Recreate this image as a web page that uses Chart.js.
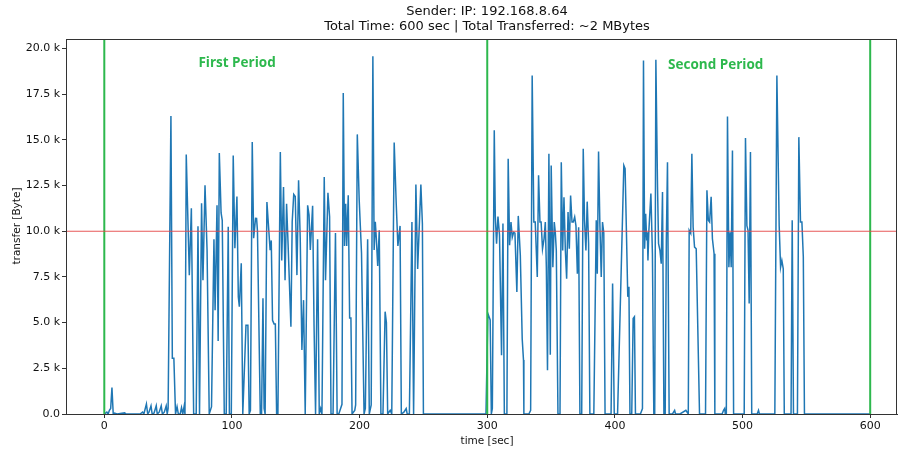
<!DOCTYPE html>
<html>
<head>
<meta charset="utf-8">
<script src="https://cdn.jsdelivr.net/npm/chart.js@4/dist/chart.umd.min.js"></script>
<style>
  html, body { margin: 0; padding: 0; background: #fff; }
  #myChart { display: block; }
</style>
</head>
<body>
<canvas id="myChart" width="898" height="452"></canvas>
<script>
// time [sec] and transfer [Byte]
const times = [
  0, 2, 3, 4, 5, 6, 7, 8, 10, 16, 17, 28, 30, 31, 33, 34, 35, 36.6, 37.5, 39, 40.7, 41.5, 43, 44.6, 45.5, 47, 48.5, 49.3,
  50, 52.2, 53.3, 54.5, 55.8, 57, 58, 59.5, 60.5, 61.5, 62.5, 63.2, 64.2, 66.6, 68.2, 70, 72, 73.4, 74.6, 76.2, 77.3, 78.9,
  80.5, 82.2, 84, 85.9, 86.8, 88.3, 89.2, 90.1, 91.5, 92.4, 94, 95.5, 97.1, 98, 99.5, 101, 102.3, 103.9, 105, 105.8, 107.3,
  108.5, 111, 112.5, 113.5, 114.5, 115.9, 117, 118.5, 119.3, 120, 122.2, 123.2, 124.3, 125.2, 126, 127.4, 129.9, 130.8,
  131.8, 133, 134, 135, 136, 137.9, 139, 140.4, 141.6, 142.8, 144, 146.2, 147.2, 148.4, 149.6, 150.9, 152.2, 153.5, 154.8,
  156.1, 157.4, 159.3, 160.4, 161.4, 163.2, 164.3, 165.5, 167.1, 168.4, 169.5, 170.5, 172.3, 173.3, 175.2, 176.5, 177.6,
  179.2, 181.1, 182.4, 183.7, 186.2, 187.2, 188.2, 189.1, 189.9, 191.1, 192.2, 193.2, 194.1, 196.2, 196.9, 198.2, 199.7,
  201.5, 203.5, 204.5, 206.3, 207.6, 209.1, 210.4, 211.4, 212.3, 213.1, 214.2, 215.4, 216.7, 218.3, 220, 221, 222, 224,
  225.2, 227.1, 228.7, 230, 231.7, 232.7, 234.7, 236.5, 237.3, 239, 241, 242.3, 244.1, 245.5, 248, 249.2, 250, 299,
  300.5, 302.3, 303.2, 304, 305.5, 306.3, 307.3, 308.4, 309.6, 311.2, 312.3, 313.4, 315.4, 316.4, 317.5, 318.6, 319.6,
  320.7, 321.7, 323.2, 324.3, 325.9, 327.4, 328.4, 328.7, 332.6, 334, 335.2, 336.5, 337.6, 339.2, 340.2, 341.3, 342.2,
  343.3, 344.5, 345.5, 346.3, 347.2, 348.3, 349.4, 350.1, 351.4, 352.5, 353.3, 354.1, 355.4, 357, 358, 359.1, 360.1,
  361.2, 362.2, 363.3, 364.3, 365.3, 366.4, 367.4, 368.5, 369.5, 370.6, 371.6, 372.6, 374, 375.2, 376.2, 377.3, 378.3,
  379.4, 380.4, 383.5, 385.4, 386.2, 387.2, 388.2, 389.3, 390.3, 391.3, 392.3, 397, 398.2, 399.5, 402.1, 407, 408,
  410.1, 411, 411.8, 413.2, 414.3, 415.3, 416.1, 420, 421.6, 422.4, 423.3, 424.1, 424.9, 425.4, 425.9, 426.6, 428.2,
  429.4, 430.5, 431.2, 432.1, 433.4, 434.2, 435.3, 436.3, 437.3, 438.4, 439.4, 440.3, 441.2, 442.5, 445.1, 446.8,
  447.5, 451, 455.6, 457.5, 458.2, 459.4, 460.3, 461.3, 462.4, 463.7, 466.3, 471, 472.1, 473.2, 474.2, 475.4, 476.4,
  477.7, 478.3, 484, 485.1, 486, 486.5, 487.3, 488.2, 489.3, 490.3, 491.1, 492.1, 493, 501.3, 502.3, 503.4, 504.3,
  505.2, 506.2, 507.2, 511.5, 512.5, 513.2, 525.3, 526.9, 528.7, 529.8, 530.8, 531.9, 532.7, 538, 538.9, 539.9, 543,
  544.1, 545.4, 546.5, 547.6, 548.5, 600
];
const bytes = [
  0, 100, 0, 200, 300, 1450, 0, 50, 0, 60, 0, 0, 100, 0, 550, 0, 100, 450, 0, 50, 450, 0, 100, 450, 0, 100, 450, 0,
  300, 16300, 3050, 3050, 0, 400, 0, 0, 350, 0, 400, 0, 14200, 7600, 11260, 0, 0, 10270, 0, 11530, 7320, 12510,
  9000, 0, 400, 9560, 5680, 11420, 4000, 14280, 11000, 10600, 0, 0, 10240, 0, 0, 14150, 9070, 11900, 6410, 5870, 8250,
  0, 4860, 4860, 0, 200, 14880, 9620, 10710, 10700, 10000, 0, 0, 6340, 300, 0, 11600, 8960, 9500,
  5130, 4930, 4930, 0, 0, 14330, 8400, 12420, 7320, 11500, 9240, 4770, 10520, 12020, 11900, 7600, 12790, 9600, 3500,
  6230, 0, 11420, 10880, 8970, 11400, 4900, 0, 9560, 0, 300, 0, 12970, 7320, 12100, 10790, 0,
  0, 9910, 0, 0, 530, 17560, 9200, 11500, 9200, 11970, 5250, 5250, 0, 200, 500, 15300, 11700,
  8800, 0, 300, 9560, 0, 500, 19580, 8970, 10520, 9620, 8100, 10050, 0, 0, 5600, 5000, 0, 200,
  0, 14850, 11500, 9200, 10290, 0, 100, 300, 0, 0, 10510, 0, 12560, 7940, 12560, 10400, 0, 0,
  5500, 5150, 0, 300, 15520, 10820, 9320, 10800, 9800, 3220, 10420, 0, 0, 13970, 9230, 10500, 9670,
  9940, 9900, 6680, 10840, 8700, 4100, 2950, 0, 0, 200, 18520, 10500, 10500, 7500, 13060, 10500, 10500,
  9040, 9590, 10500, 8030, 2400, 14240, 3240, 13600, 8030, 10500, 9950, 8950, 0, 0, 13780, 8950, 11860,
  8950, 7400, 11050, 9040, 11950, 10500, 10500, 10780, 10300, 7670, 10220, 0, 0, 14520, 10600, 8950, 11620,
  9320, 0, 0, 10600, 7670, 14370, 10500, 7500, 10500, 9900, 0, 0, 7140, 0, 0, 13600, 13420,
  6410, 6960, 0, 0, 5230, 5320, 0, 0, 300, 19340, 9040, 10950, 9500, 9950, 8400, 10000, 12060,
  8760, 0, 0, 19380, 12430, 9320, 8950, 8220, 12150, 0, 0, 9500, 13780, 0, 0, 200,
  0, 0, 200, 0, 10050, 9880, 14240, 10220, 9130, 9040, 0, 0, 12240, 10600, 10500, 11880, 9590,
  8770, 0, 0, 200, 300, 0, 0, 16280, 8030, 9950, 8030, 14420, 0, 0, 15100, 10300, 10050,
  6050, 14330, 0, 0, 200, 0, 0, 18520, 10300, 8030, 8400, 7940, 0, 0, 10600, 0, 0,
  15150, 10500, 10500, 8600, 0, 0
];
const xTicks = [0, 100, 200, 300, 400, 500, 600];
const yTicks = [0, 2500, 5000, 7500, 10000, 12500, 15000, 17500, 20000];
const periodBounds = [0, 300, 600];
const threshold = 10000;
const periodNames = ["First Period", "Second Period"];
const titleLines = ["Sender: IP: 192.168.8.64", "Total Time: 600 sec | Total Transferred: ~2 MBytes"];

const xMin = -30, xMax = 621, yMax = 20520;
const green = "#2db84d";
const font = "'DejaVu Sans', sans-serif";

const series = times.map((t, i) => ({ x: t, y: bytes[i] }));

let datasets = [];
datasets.push({
  data: [{ x: xMin, y: threshold }, { x: xMax, y: threshold }],
  borderColor: "rgba(228, 70, 70, 0.9)",
  borderWidth: 1.2,
  pointRadius: 0,
  order: 0
});
periodBounds.forEach(b => {
  datasets.push({
    data: [{ x: b, y: 0 }, { x: b, y: yMax }],
    borderColor: green,
    borderWidth: 2,
    pointRadius: 0,
    order: 1
  });
});
datasets.push({
  data: series,
  borderColor: "#1f77b4",
  borderWidth: 1.5,
  pointRadius: 0,
  tension: 0,
  order: 2
});

const extras = {
  id: "extras",
  afterDraw(chart) {
    const ctx = chart.ctx;
    const a = chart.chartArea;
    const sx = chart.scales.x;
    const sy = chart.scales.y;
    ctx.save();
    // frame
    ctx.strokeStyle = "#333";
    ctx.lineWidth = 1;
    ctx.strokeRect(a.left + 0.5, a.top + 0.5, a.right - a.left - 1, a.bottom - a.top);
    // title
    ctx.fillStyle = "#111";
    ctx.textAlign = "center";
    ctx.textBaseline = "middle";
    ctx.font = "13px " + font;
    ctx.fillText(titleLines[0], 487, 12);
    ctx.fillText(titleLines[1], 487, 27);
    // axis titles
    ctx.font = "10.5px " + font;
    ctx.fillText("time [sec]", 487, 441);
    ctx.translate(17, 226);
    ctx.rotate(-Math.PI / 2);
    ctx.fillText("transfer [Byte]", 0, 0);
    ctx.restore();
    // period labels
    ctx.save();
    ctx.fillStyle = green;
    ctx.font = "bold 13.5px 'Open Sans', sans-serif";
    ctx.textAlign = "center";
    ctx.textBaseline = "middle";
    ctx.fillText(periodNames[0], sx.getPixelForValue(104), sy.getPixelForValue(19200));
    ctx.fillText(periodNames[1], sx.getPixelForValue(479), sy.getPixelForValue(19100));
    ctx.restore();
  }
};

new Chart(document.getElementById("myChart").getContext("2d"), {
  type: "line",
  data: { datasets: datasets },
  options: {
    responsive: false,
    animation: false,
    devicePixelRatio: 1,
    layout: { padding: { top: 39, right: 1, left: 0, bottom: 0 } },
    plugins: { legend: { display: false }, tooltip: { enabled: false } },
    scales: {
      x: {
        type: "linear",
        min: xMin,
        max: xMax,
        afterBuildTicks: s => { s.ticks = xTicks.map(v => ({ value: v })); },
        afterFit: s => { s.height = 38; },
        grid: { drawOnChartArea: false, drawTicks: true, tickLength: 4, color: "#333" },
        border: { display: true, color: "#333" },
        ticks: { color: "#111", padding: 2, font: { family: font, size: 11 }, maxRotation: 0 }
      },
      y: {
        type: "linear",
        min: 0,
        max: yMax,
        afterBuildTicks: s => { s.ticks = yTicks.map(v => ({ value: v })); },
        afterFit: s => { s.width = 66; },
        grid: { drawOnChartArea: false, drawTicks: true, tickLength: 4, color: "#333" },
        border: { display: true, color: "#333" },
        ticks: {
          color: "#111",
          padding: 2,
          font: { family: font, size: 11 },
          callback: v => v === 0 ? "0.0" : (v / 1000).toFixed(1) + " k"
        }
      }
    }
  },
  plugins: [extras]
});
</script>
</body>
</html>
